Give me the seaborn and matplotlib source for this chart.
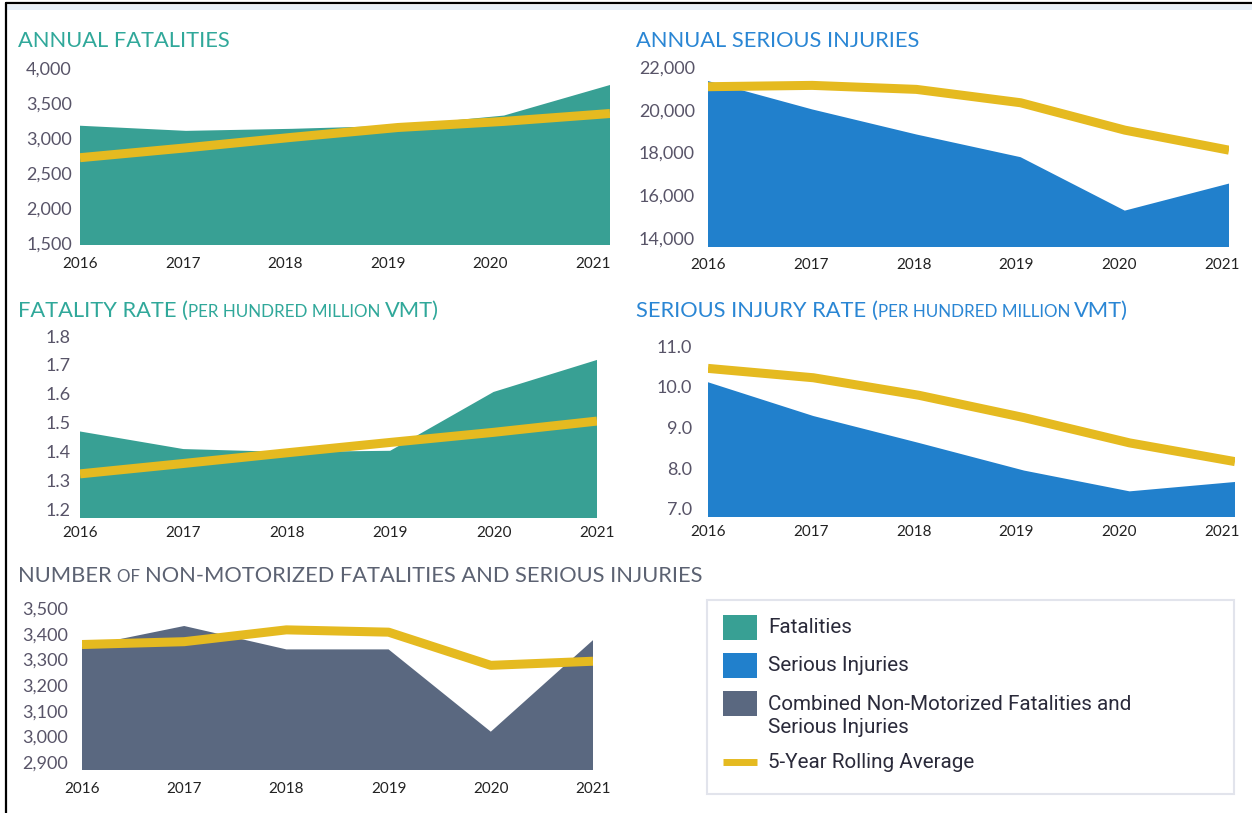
import numpy as np
import pandas as pd
import matplotlib
matplotlib.use("Agg")
import matplotlib.pyplot as plt
import seaborn as sns
from matplotlib.patches import Rectangle
from matplotlib.lines import Line2D
from matplotlib.ticker import FuncFormatter
from matplotlib.transforms import ScaledTranslation

# ---------------- data ----------------
years = [2016, 2017, 2018, 2019, 2020, 2021]
fatalities = [3178, 3105, 3134, 3178, 3323, 3758]
fatalities_avg = [2723, 2863, 3013, 3153, 3240, 3352]
serious_injuries = [21344, 20016, 18844, 17781, 15281, 16547]
serious_injuries_avg = [21078, 21140, 20953, 20328, 19047, 18109]
fatality_rate = [1.469, 1.408, 1.398, 1.402, 1.606, 1.717]
fatality_rate_avg = [1.322, 1.358, 1.395, 1.431, 1.466, 1.505]
injury_rate = [10.11, 9.28, 8.62, 7.94, 7.43, 7.66]
injury_rate_avg = [10.45, 10.22, 9.79, 9.24, 8.62, 8.16]
nonmotorized = [3349, 3430, 3339, 3339, 3019, 3375]
nonmotorized_avg = [3358, 3369, 3415, 3406, 3277, 3293]

legend_labels = ["Fatalities", "Serious Injuries",
                 "Combined Non-Motorized Fatalities and\nSerious Injuries",
                 "5-Year Rolling Average"]

TEAL = "#38a094"
BLUE = "#2180cc"
SLATE = "#5a6880"
YELLOW = "#e5ba20"
TEAL_T = "#30a89a"
BLUE_T = "#2a86d4"
GRAY_T = "#5c6272"

sns.set_theme(style="white")
plt.rcParams["font.family"] = ["Lato", "DejaVu Sans"]

W, H = 1252, 813
fig = plt.figure(figsize=(W / 100, H / 100), dpi=100)
fig.patch.set_facecolor("white")


def rect(l, t, r, b):
    return [l / W, 1 - b / H, (r - l) / W, (b - t) / H]


def panel(box, vals, avg, color, ylim, ystep, fmt, ypad, xpad, last_shift=0.0,
          minor=False):
    ax = fig.add_axes(rect(*box))
    df = pd.DataFrame({"year": years, "value": vals, "avg": avg})
    ax.fill_between(df["year"], df["value"], ylim[0] - 1e6, color=color, lw=0, zorder=1)
    sns.lineplot(data=df, x="year", y="avg", ax=ax, color=YELLOW, lw=6.5,
                 solid_capstyle="butt", solid_joinstyle="round", zorder=3)
    ax.set_xlim(years[0], years[-1])
    ax.set_ylim(*ylim)
    lo = np.ceil(ylim[0] / ystep - 1e-9) * ystep
    ticks = np.arange(lo, ylim[1] + ystep * 0.01, ystep)
    ax.set_yticks(ticks)
    ax.yaxis.set_major_formatter(FuncFormatter(fmt))
    ax.set_xticks(years)
    ax.set_xticklabels([str(y) for y in years])
    ax.set_xlabel("")
    ax.set_ylabel("")
    for s in ax.spines.values():
        s.set_visible(False)
    ax.tick_params(axis="y", length=0, pad=ypad, labelsize=13, labelcolor="#585468")
    ax.tick_params(axis="x", length=0, pad=xpad, labelsize=11, labelcolor="#222222")
    n = len(years) - 1
    for i, lab in enumerate(ax.get_xticklabels()):
        dx = last_shift * i / n / 100.0
        lab.set_transform(lab.get_transform() + ScaledTranslation(dx, 0, fig.dpi_scale_trans))
    if minor:
        ax.set_xticks([y + 0.5 for y in years[:-1]], minor=True)
        ax.tick_params(axis="x", which="minor", length=3, width=1, color="#6b7390",
                       direction="out")
    ax.patch.set_alpha(0)
    return ax


fmt_comma = lambda v, p: f"{v:,.0f}"
fmt_1 = lambda v, p: f"{v:.1f}"

panel((80, 68, 610, 245), fatalities, fatalities_avg, TEAL, (1480, 4000), 500,
      fmt_comma, 5.8, 8.5, last_shift=-17)
panel((708, 67, 1229, 247), serious_injuries, serious_injuries_avg, BLUE,
      (13580, 22000), 2000, fmt_comma, 9.4, 8.0, last_shift=-7, minor=True)
panel((80, 336, 597, 518), fatality_rate, fatality_rate_avg, TEAL, (1.169, 1.8),
      0.1, fmt_1, 7, 6.0, minor=True)
panel((708, 346, 1235, 517), injury_rate, injury_rate_avg, BLUE, (6.8, 11.0), 1.0,
      fmt_1, 11.5, 6.0, last_shift=-13)
panel((82, 608, 593, 770), nonmotorized, nonmotorized_avg, SLATE, (2870, 3500), 100,
      fmt_comma, 10, 8.6)

# ---------------- titles ----------------
fig.canvas.draw()
R = fig.canvas.get_renderer()
TF = ["Lato", "DejaVu Sans"]


def put(x, y, s, size, color, family=TF, **kw):
    t = fig.text(x / W, 1 - y / H, s, fontsize=size, color=color, family=family,
                 ha="left", va="center", **kw)
    return x + t.get_window_extent(renderer=R).width


def fit_size(s, target, family=TF):
    t = fig.text(0, 0, s, fontsize=10, family=family)
    w = t.get_window_extent(renderer=R).width
    t.remove()
    return 10 * target / w


big = fit_size("ANNUAL FATALITIES", 210)
small = big * 0.78

put(18, 41, "ANNUAL FATALITIES", big, TEAL_T)
put(636, 41, "ANNUAL SERIOUS INJURIES", big, BLUE_T)

x = put(18, 311, "FATALITY RATE ", big, TEAL_T)
x = put(x, 311, "(", big, TEAL_T)
x = put(x, 312, "PER HUNDRED MILLION ", small, TEAL_T)
put(x, 311, "VMT)", big, TEAL_T)

x = put(636, 311, "SERIOUS INJURY RATE ", big, BLUE_T)
x = put(x, 311, "(", big, BLUE_T)
x = put(x, 312, "PER HUNDRED MILLION ", small, BLUE_T)
put(x, 311, "VMT)", big, BLUE_T)

x = put(18, 576, "NUMBER ", big, GRAY_T)
x = put(x, 577, "OF ", small, GRAY_T)
put(x, 576, "NON-MOTORIZED FATALITIES AND SERIOUS INJURIES", big, GRAY_T)

# ---------------- legend ----------------
fig.add_artist(Rectangle((707 / W, 1 - 794 / H), (1234 - 707) / W, (794 - 600) / H,
                         transform=fig.transFigure, facecolor="white",
                         edgecolor="#e2e4ec", lw=1.5))
sw_x, sw_w, sw_h = 723, 34, 25
for yc, c in [(627, TEAL), (665, BLUE), (703, SLATE)]:
    fig.add_artist(Rectangle((sw_x / W, 1 - (yc + sw_h / 2) / H), sw_w / W, sw_h / H,
                             transform=fig.transFigure, facecolor=c, edgecolor="none"))
fig.add_artist(Line2D([sw_x / W, (sw_x + sw_w) / W], [1 - 762 / H] * 2,
                      transform=fig.transFigure, color=YELLOW, lw=5,
                      solid_capstyle="butt"))
LF = ["Roboto", "DejaVu Sans"]
lsize = fit_size("Combined Non-Motorized Fatalities and", 363, LF)
leg_kw = dict(fontsize=lsize, color="#2a2a3a", ha="left", va="center", family=LF)
fig.text(768 / W, 1 - 627 / H, legend_labels[0], **leg_kw)
fig.text(768 / W, 1 - 665 / H, legend_labels[1], **leg_kw)
fig.text(768 / W, 1 - 716 / H, legend_labels[2], linespacing=1.3, **leg_kw)
fig.text(768 / W, 1 - 762 / H, legend_labels[3], **leg_kw)

# ---------------- screenshot frame ----------------
fig.add_artist(Rectangle((7 / W, 1 - 10 / H), 1, 5 / H, transform=fig.transFigure,
                         facecolor="#e8f0f8", edgecolor="none"))
fig.add_artist(Line2D([5.5 / W, 1], [1 - 3.5 / H] * 2, transform=fig.transFigure,
                      color="black", lw=1.6))
fig.add_artist(Line2D([6 / W, 6 / W], [0, 1 - 3 / H], transform=fig.transFigure,
                      color="black", lw=1.6))

fig.savefig("out.png", dpi=100, facecolor="white")
